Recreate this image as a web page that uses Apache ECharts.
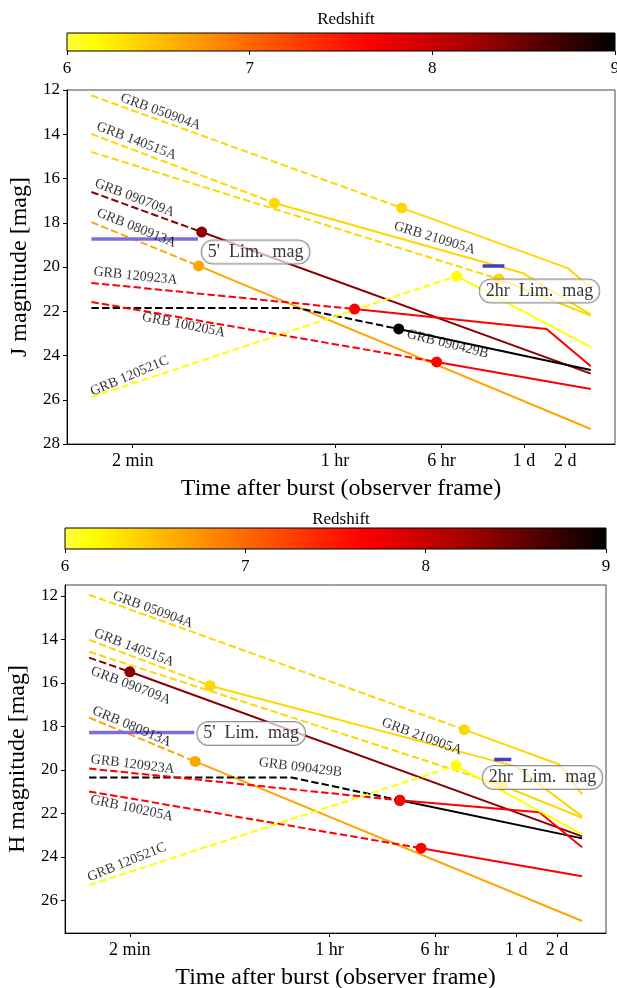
<!DOCTYPE html>
<html>
<head>
<meta charset="utf-8">
<script src="https://cdn.jsdelivr.net/npm/echarts@6/dist/echarts.min.js"></script>
<style>
html,body{margin:0;padding:0;background:#fff;}
#chart{width:617px;height:988px;}
</style>
</head>
<body>
<div id="chart"></div>
<script>
// GRB order used by every array below
var grbNames = ['GRB 050904A','GRB 140515A','GRB 210905A','GRB 090709A','GRB 080913A','GRB 090429B','GRB 120923A','GRB 100205A','GRB 120521C'];
var grbColors = ['#ffd700','#ffd700','#ffd700','#8b0000','#ffa500','#000000','#ff0000','#ff0000','#ffff00'];

// J band: time after burst [s], magnitude; jDot = index of first detection (dashed before, solid after)
var jTime = [
    [60, 11040, 179500, 265000],
    [60, 1300, 84000, 265000],
    [60, 56400, 265000],
    [60, 383, 265000],
    [60, 364, 265000],
    [60, 1890, 10500, 265000],
    [60, 5000, 126000, 265000],
    [60, 19860, 265000],
    [60, 27800, 265000]
];
var jMag = [
    [12.25, 17.33, 20.05, 20.95],
    [13.99, 17.11, 20.27, 22.15],
    [14.80, 20.54, 22.20],
    [16.61, 18.42, 24.82],
    [17.97, 19.95, 27.32],
    [21.85, 21.85, 22.80, 24.66],
    [20.72, 21.90, 22.80, 24.49],
    [21.58, 24.29, 25.51],
    [25.88, 20.41, 23.62]
];
var jDot = [1, 1, 1, 1, 1, 2, 1, 1, 1];

// H band
var hTime = [
    [60, 35600, 180000, 265000],
    [60, 471, 85100, 265000],
    [60, 68000, 265000],
    [60, 120, 265000],
    [60, 365, 265000],
    [60, 1880, 11900, 265000],
    [60, 11900, 128000, 265000],
    [60, 17100, 265000],
    [60, 31000, 265000]
];
var hMag = [
    [11.95, 18.15, 19.75, 21.13],
    [14.02, 16.13, 19.84, 22.14],
    [14.57, 20.72, 22.20],
    [14.84, 15.49, 23.06],
    [17.60, 19.61, 26.95],
    [20.35, 20.35, 21.40, 23.15],
    [19.94, 21.40, 21.95, 23.56],
    [20.99, 23.60, 24.89],
    [25.30, 19.80, 22.96]
];
var hDot = [1, 1, 1, 1, 1, 2, 1, 1, 1];

// name labels (time, mag, rotation)
var jLabT = [192, 128, 19200, 124, 128, 23900, 126, 283, 114];
var jLabM = [12.99, 14.31, 18.69, 16.88, 18.24, 23.48, 20.41, 22.62, 24.93];
var jLabRot = [-20, -21, -17, -21, -22, -14, -6, -11, 23];
var hLabT = [178, 129, 17300, 122, 124, 2190, 126, 124, 114];
var hLabM = [12.64, 14.39, 18.47, 16.13, 18.01, 19.89, 19.75, 21.77, 24.25];
var hLabRot = [-20, -21, -20, -21, -23, -7, -7, -12, 22];

// limiting magnitudes: 5' and 2hr
var limText = ["5'  Lim.  mag", "2hr  Lim.  mag"];
var jLim5T = [60, 360], jLim5M = 18.73;
var jLim2T = [43000, 62000], jLim2M = 19.95;
var hLim5T = [60, 360], hLim5M = 18.28;
var hLim2T = [59400, 79400], hLim2M = 19.52;
var jBoxT = [948, 112000], jBoxM = [19.32, 21.08];
var hBoxT = [948, 135000], hBoxM = [18.33, 20.35];

// x ticks
var tickT = [120, 3600, 21600, 86400, 172800];
var tickText = ['2 min', '1 hr', '6 hr', '1 d', '2 d'];

// colorbar
var zMin = 6, zMax = 9;
var cbarStops = [[0, '#ffff40'], [0.05, '#ffff00'], [0.18, '#ffb800'], [0.33, '#ff6a00'],
    [0.55, '#ff0000'], [0.75, '#a00000'], [0.9, '#400000'], [1, '#000000']];

var FONT = 'Liberation Serif';

function lt(t) { return Math.log10(t); }

function tickLabel(v) {
    for (var i = 0; i < tickT.length; i++) {
        if (Math.abs(lt(tickT[i]) - v) < 1e-6) return tickText[i];
    }
    return '';
}

function bandSeries(ax, times, mags, dots, labT, labM, labRot, lim5T, lim5M, lim2T, lim2M, boxT, boxM) {
    var out = [];
    for (var i = 0; i < grbNames.length; i++) {
        var pts = times[i].map(function (t, k) { return [lt(t), mags[i][k]]; });
        var d = dots[i];
        out.push({
            type: 'line', xAxisIndex: ax, yAxisIndex: ax, data: pts.slice(0, d + 1),
            symbol: 'none', silent: true, z: 3,
            lineStyle: { color: grbColors[i], width: 2, type: [7.4, 3.2] }
        });
        out.push({
            type: 'line', xAxisIndex: ax, yAxisIndex: ax, data: pts.slice(d),
            symbol: 'none', silent: true, z: 3,
            lineStyle: { color: grbColors[i], width: 2 }
        });
    }
    for (var i = 0; i < grbNames.length; i++) {
        var p = [lt(times[i][dots[i]]), mags[i][dots[i]]];
        out.push({
            type: 'scatter', xAxisIndex: ax, yAxisIndex: ax, data: [p], silent: true, z: 4,
            symbolSize: 11, itemStyle: { color: grbColors[i], opacity: 1 }
        });
    }
    // limit bars
    out.push({
        type: 'line', xAxisIndex: ax, yAxisIndex: ax, symbol: 'none', silent: true, z: 5,
        data: [[lt(lim5T[0]), lim5M], [lt(lim5T[1]), lim5M]],
        lineStyle: { color: '#7b6fdc', width: 3.5 }
    });
    out.push({
        type: 'line', xAxisIndex: ax, yAxisIndex: ax, symbol: 'none', silent: true, z: 5,
        data: [[lt(lim2T[0]), lim2M], [lt(lim2T[1]), lim2M]],
        lineStyle: { color: '#3f3fbf', width: 3.5 }
    });
    // name labels
    out.push({
        type: 'scatter', xAxisIndex: ax, yAxisIndex: ax, silent: true, z: 6,
        symbolSize: 1, itemStyle: { color: 'rgba(0,0,0,0)' },
        data: grbNames.map(function (n, i) {
            return {
                value: [lt(labT[i]), labM[i]],
                label: { show: true, position: 'inside', formatter: n, rotate: labRot[i],
                    color: '#000', fontFamily: FONT, fontSize: 14 }
            };
        })
    });
    // limiting magnitude boxes
    out.push({
        type: 'scatter', xAxisIndex: ax, yAxisIndex: ax, silent: true, z: 7,
        symbolSize: 1, itemStyle: { color: 'rgba(0,0,0,0)' },
        data: limText.map(function (s, i) {
            return {
                value: [lt(boxT[i]), boxM[i]],
                label: { show: true, position: 'inside', formatter: s,
                    color: '#000', fontFamily: FONT, fontSize: 18,
                    backgroundColor: 'rgba(255,255,255,0.85)', borderColor: '#777', borderWidth: 1,
                    borderRadius: 11, padding: [3, 6, 2, 6] }
            };
        })
    });
    return out;
}

function plotX(grid, name) {
    return {
        type: 'value', gridIndex: grid, min: 1.6, max: 5.6,
        name: name, nameLocation: 'middle', nameGap: 33,
        nameTextStyle: { fontFamily: FONT, fontSize: 24, color: '#000' },
        axisLine: { show: true, lineStyle: { color: '#000', width: 1 } },
        axisTick: { show: true, customValues: tickT.map(lt), length: 4, lineStyle: { color: '#000' } },
        axisLabel: { customValues: tickT.map(lt), formatter: tickLabel, margin: 8,
            fontFamily: FONT, fontSize: 18, color: '#000' },
        splitLine: { show: false }
    };
}

function plotY(grid, name, min, max) {
    var vals = [12, 14, 16, 18, 20, 22, 24, 26, 28].filter(function (v) { return v >= min && v <= max; });
    return {
        type: 'value', gridIndex: grid, inverse: true, min: min, max: max,
        name: name, nameLocation: 'middle', nameGap: 34,
        nameTextStyle: { fontFamily: FONT, fontSize: 24, color: '#000' },
        axisLine: { show: true, lineStyle: { color: '#000', width: 1 } },
        axisTick: { show: true, customValues: vals, length: 4, lineStyle: { color: '#000' } },
        axisLabel: { customValues: vals, margin: 7, fontFamily: FONT, fontSize: 17, color: '#000' },
        splitLine: { show: false }
    };
}

function cbarX(grid) {
    return {
        type: 'value', gridIndex: grid, min: zMin, max: zMax, interval: 1,
        axisLine: { show: false },
        axisTick: { show: true, length: 4, lineStyle: { color: '#000' } },
        axisLabel: { margin: 9, fontFamily: FONT, fontSize: 17, color: '#000' },
        splitLine: { show: false }
    };
}

function cbarY(grid) {
    return { type: 'value', gridIndex: grid, min: 0, max: 1, show: false };
}

var cbarFill = new echarts.graphic.LinearGradient(0, 0, 1, 0, cbarStops.map(function (s) {
    return { offset: s[0], color: s[1] };
}));

var option = {
    animation: false,
    backgroundColor: '#fff',
    title: [
        { text: 'Redshift', left: 341, top: 6, textAlign: 'center',
          textStyle: { fontFamily: FONT, fontSize: 17, fontWeight: 'normal', color: '#000' } },
        { text: 'Redshift', left: 336, top: 506, textAlign: 'center',
          textStyle: { fontFamily: FONT, fontSize: 17, fontWeight: 'normal', color: '#000' } }
    ],
    grid: [
        { left: 67, top: 33, width: 548, height: 18, show: true, backgroundColor: cbarFill,
          borderColor: '#000', borderWidth: 1, outerBoundsMode: 'none' },
        { left: 67, top: 90, width: 548, height: 354, show: true, backgroundColor: '#fff',
          borderColor: '#444', borderWidth: 1, outerBoundsMode: 'none' },
        { left: 65, top: 528, width: 541, height: 21, show: true, backgroundColor: cbarFill,
          borderColor: '#000', borderWidth: 1, outerBoundsMode: 'none' },
        { left: 65, top: 585, width: 541, height: 348, show: true, backgroundColor: '#fff',
          borderColor: '#444', borderWidth: 1, outerBoundsMode: 'none' }
    ],
    xAxis: [
        cbarX(0),
        plotX(1, 'Time after burst (observer frame)'),
        cbarX(2),
        plotX(3, 'Time after burst (observer frame)')
    ],
    yAxis: [
        cbarY(0),
        plotY(1, 'J magnitude [mag]', 12, 28),
        cbarY(2),
        plotY(3, 'H magnitude [mag]', 11.5, 27.5)
    ],
    series: [].concat(
        bandSeries(1, jTime, jMag, jDot, jLabT, jLabM, jLabRot, jLim5T, jLim5M, jLim2T, jLim2M, jBoxT, jBoxM),
        bandSeries(3, hTime, hMag, hDot, hLabT, hLabM, hLabRot, hLim5T, hLim5M, hLim2T, hLim2M, hBoxT, hBoxM)
    )
};

var chart = echarts.init(document.getElementById('chart'));
chart.setOption(option);
</script>
</body>
</html>
